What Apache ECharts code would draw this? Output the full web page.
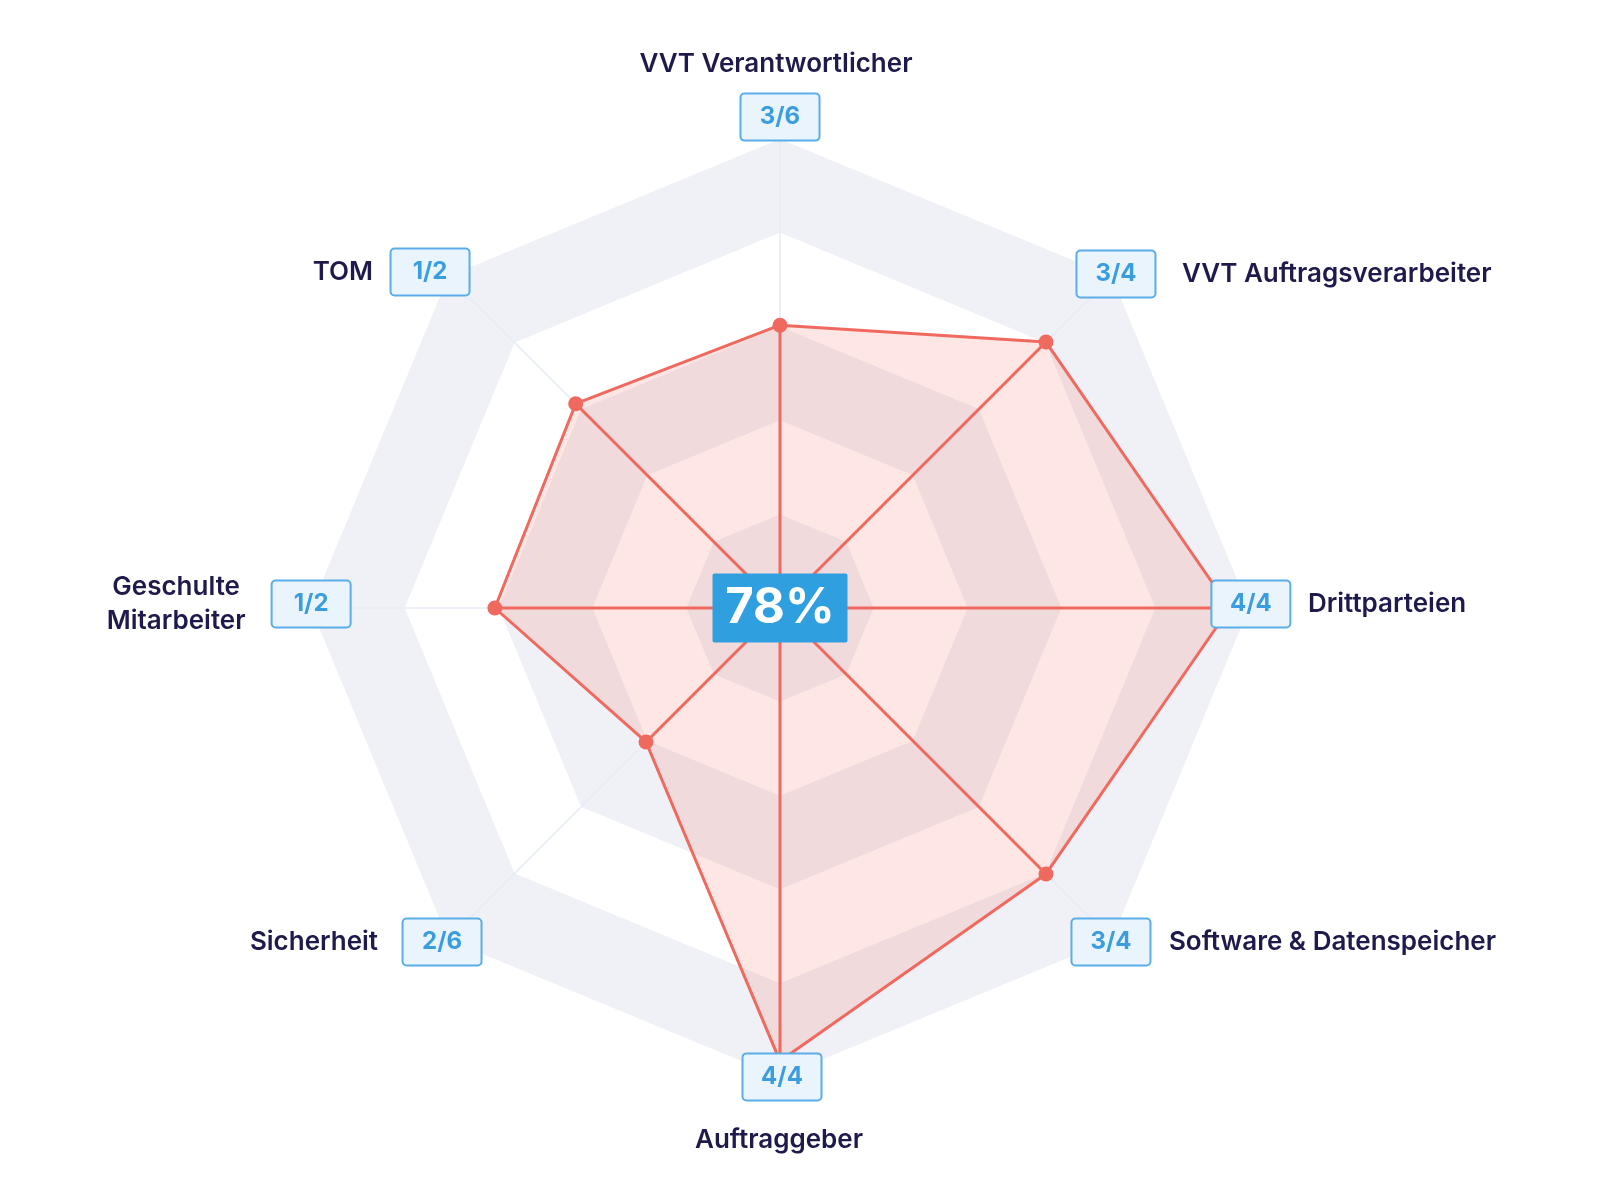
<!DOCTYPE html>
<html><head><meta charset="utf-8">
<script src="https://cdn.jsdelivr.net/npm/echarts@6/dist/echarts.min.js"></script>
<style>html,body{margin:0;padding:0;background:#fff}#c{width:1600px;height:1200px}</style>
</head><body><div id="c"></div>
<script>
// Axes in radar order (counter-clockwise starting at the top)
const categories = ['VVT Verantwortlicher', 'TOM', 'Geschulte\nMitarbeiter', 'Sicherheit', 'Auftraggeber', 'Software & Datenspeicher', 'Drittparteien', 'VVT Auftragsverarbeiter'];
const scoreLabels = ['3/6', '1/2', '1/2', '2/6', '4/4', '3/4', '4/4', '3/4'];
const values = [0.603, 0.616, 0.608, 0.404, 0.966, 0.802, 0.959, 0.802];
const totalLabel = '78%';

// ---- style ----
const CENTER = [780, 608];
const RADIUS = 469;
const LABEL_R = 1.004;
const RED = '#f0695f';
const FONT = 'Inter, Lato, sans-serif';
const boxOffsets = [[0,-20],[-17,-3],[2,-4],[-5,1],[2,-2],[-2,1],[0,-4],[3,-1]];
const nameStyles = [
  {position:'inside', shift:[-4,-53], align:'center'},
  {position:'left', distance:57},
  {position:'left', distance:135, align:'center'},
  {position:'left', distance:64},
  {position:'inside', shift:[-3,63], align:'center'},
  {position:'right', distance:58},
  {position:'right', distance:57},
  {position:'right', distance:66}
];

const chart = echarts.init(document.getElementById('c'), null, {renderer:'canvas'});

// angle coordinate = axis index (angle axis spans 0..n for the full circle)
const spokeData = [];
values.forEach((v, i) => { spokeData.push([0, i]); spokeData.push([v, i]); });

const boxData = categories.map((c, i) => ({
  value: [LABEL_R, i],
  label: {offset: boxOffsets[i]}
}));
const nameData = categories.map((c, i) => {
  const s = nameStyles[i];
  const off = boxOffsets[i];
  const lab = {position: s.position, formatter: c};
  if (s.shift) lab.offset = [off[0] + s.shift[0], off[1] + s.shift[1]];
  else lab.offset = off;
  if (s.distance != null) lab.distance = s.distance;
  if (s.align) lab.align = s.align;
  return {value: [LABEL_R, i], label: lab};
});

const hiddenItem = {color: 'rgba(0,0,0,0)', opacity: 1};

chart.setOption({
  animation: false,
  backgroundColor: '#ffffff',
  radar: {
    center: CENTER, radius: RADIUS, startAngle: 90, splitNumber: 5, shape: 'polygon',
    indicator: categories.map(c => ({name: c, min: 0, max: 1})),
    axisName: {show: false},
    splitArea: {show: true, areaStyle: {color: ['#f0f1f6', '#ffffff']}},
    splitLine: {show: false},
    axisLine: {show: true, lineStyle: {color: '#e6edf7', width: 1.5}},
    axisTick: {show: false},
    axisLabel: {show: false}
  },
  polar: {center: CENTER, radius: RADIUS},
  angleAxis: {type: 'value', min: 0, max: categories.length, startAngle: 90, clockwise: false, show: false},
  radiusAxis: {type: 'value', min: 0, max: 1, show: false},
  series: [
    {
      type: 'radar', z: 2,
      symbol: 'circle', symbolSize: 15,
      lineStyle: {color: RED, width: 3},
      itemStyle: {color: RED},
      areaStyle: {color: 'rgba(244,105,95,0.24)'},
      data: [{value: values}]
    },
    {
      type: 'line', coordinateSystem: 'polar', z: 3, clip: false,
      showSymbol: false, symbol: 'none',
      lineStyle: {color: RED, width: 3},
      data: spokeData
    },
    {
      type: 'scatter', coordinateSystem: 'polar', z: 5, clip: false,
      symbolSize: 0, itemStyle: hiddenItem,
      label: {
        show: true, position: 'inside',
        formatter: p => '{b|' + scoreLabels[p.dataIndex] + '}',
        rich: {b: {
          backgroundColor: '#eaf4fd', borderColor: '#5aaee8', borderWidth: 2, borderRadius: 3,
          color: '#3a9de0', fontFamily: FONT, fontWeight: 700, fontSize: 24,
          width: 77, height: 45, lineHeight: 45, align: 'center'
        }}
      },
      data: boxData
    },
    {
      type: 'scatter', coordinateSystem: 'polar', z: 5, clip: false,
      symbolSize: 0, itemStyle: hiddenItem,
      label: {
        show: true, color: '#1e1a4c', fontFamily: FONT, fontWeight: 600, fontSize: 26, lineHeight: 34
      },
      data: nameData
    },
    {
      type: 'scatter', coordinateSystem: 'polar', z: 6, clip: false,
      symbolSize: 0, itemStyle: hiddenItem,
      label: {
        show: true, position: 'inside', formatter: '{t|' + totalLabel + '}',
        rich: {t: {
          backgroundColor: '#2f9fe0', color: '#ffffff', fontFamily: FONT, fontWeight: 700,
          fontSize: 49, width: 135, height: 69, lineHeight: 69, align: 'center', borderRadius: 2
        }}
      },
      data: [[0, 0]]
    }
  ]
});
</script></body></html>
